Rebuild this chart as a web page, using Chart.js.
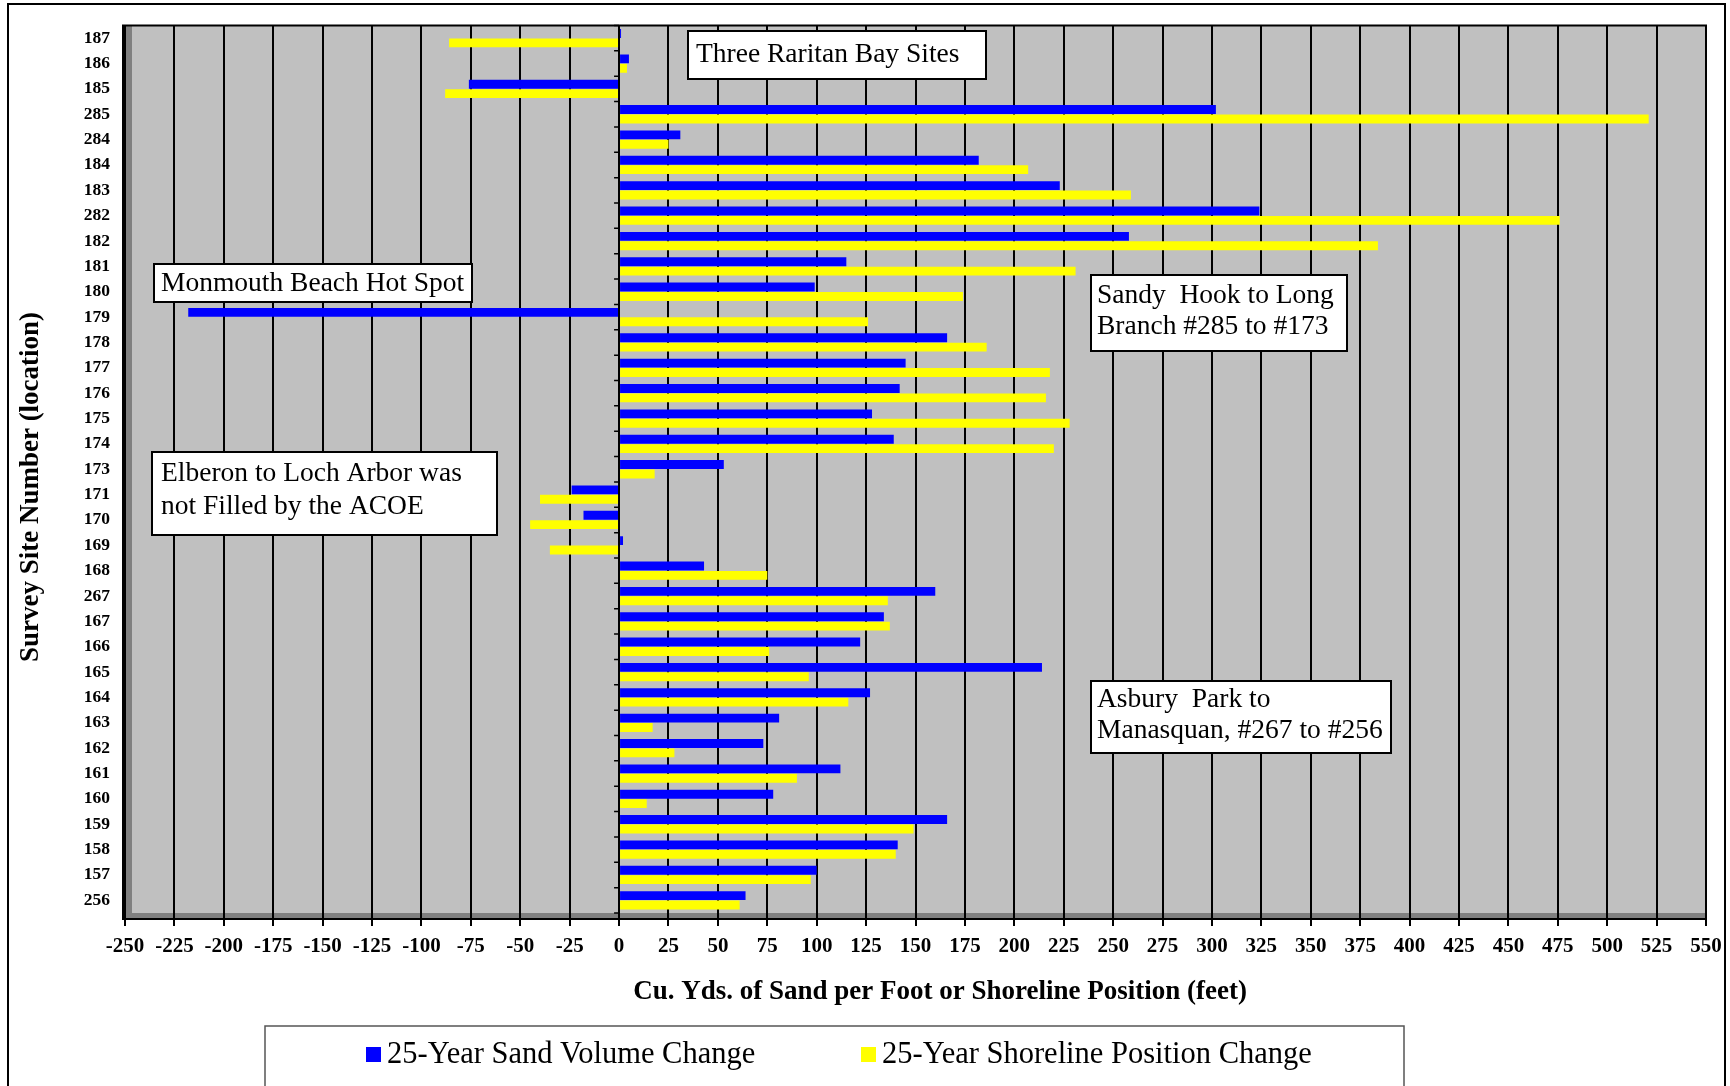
<!DOCTYPE html>
<html>
<head>
<meta charset="utf-8">
<script src="https://cdn.jsdelivr.net/npm/chart.js@4.4.1/dist/chart.umd.min.js"></script>
<style>
html,body{margin:0;padding:0;background:#fff;}
#wrap{width:1730px;height:1086px;position:relative;overflow:hidden;}
canvas{display:block;}
</style>
</head>
<body>
<div id="wrap"><canvas id="c" width="1730" height="1086"></canvas></div>
<script>
// ---- data ----
const sites = ['187','186','185','285','284','184','183','282','182','181','180','179','178','177','176','175','174','173','171','170','169','168','267','167','166','165','164','163','162','161','160','159','158','157','256'];
const sandVolumeChange = [1, 5, -76, 302, 31, 182, 223, 324, 258, 115, 99, -218, 166, 145, 142, 128, 139, 53, -24, -18, 2, 43, 160, 134, 122, 214, 127, 81, 73, 112, 78, 166, 141, 100, 64];
const shorelineChange = [-86, 4, -88, 521, 25, 207, 259, 476, 384, 231, 174, 126, 186, 218, 216, 228, 220, 18, -40, -45, -35, 75, 136, 137, 76, 96, 116, 17, 28, 90, 14, 149, 140, 97, 61];
const seriesNames = ['25-Year Sand Volume Change', '25-Year Shoreline Position Change'];
const xMin = -250, xMax = 550, xStep = 25;
const xTitle = 'Cu. Yds. of Sand per Foot or Shoreline Position (feet)';
const yTitle = 'Survey Site Number (location)';
const notes = [
  ['Three Raritan Bay Sites'],
  ['Monmouth Beach Hot Spot'],
  ['Elberon to Loch Arbor was', 'not Filled by the ACOE'],
  ['Sandy  Hook to Long', 'Branch #285 to #173'],
  ['Asbury  Park to', 'Manasquan, #267 to #256']
];

// ---- layout / style ----
const SERIF = "'Liberation Serif','Times New Roman',serif";
const noteBoxes = [
  {x:688, y:31, w:298, h:48, tx:696, ty:[55]},
  {x:154, y:264, w:318, h:38, tx:161, ty:[284]},
  {x:152, y:452, w:345, h:83, tx:161, ty:[474, 507]},
  {x:1091, y:275, w:256, h:76, tx:1097, ty:[296, 327]},
  {x:1091, y:681, w:300, h:72, tx:1097, ty:[700, 731]}
];

const decor = {
  id: 'decor',
  beforeDraw(chart) {
    const {ctx, chartArea: a} = chart;
    ctx.save();
    ctx.fillStyle = '#fff';
    ctx.fillRect(0, 0, chart.width, chart.height);
    ctx.fillStyle = '#C0C0C0';
    ctx.fillRect(a.left, a.top, a.right - a.left, a.bottom - a.top);
    ctx.fillStyle = '#808080';
    ctx.fillRect(a.left - 2, a.top, 9, a.bottom - a.top + 6);
    ctx.fillRect(a.left - 2, a.bottom, a.right - a.left + 2, 6);
    ctx.restore();
  },
  afterDraw(chart) {
    const {ctx, chartArea: a, scales} = chart;
    ctx.save();
    // plot frame
    ctx.strokeStyle = '#000';
    ctx.lineWidth = 2;
    ctx.beginPath();
    ctx.moveTo(a.left - 2, a.top);
    ctx.lineTo(a.right, a.top);
    ctx.lineTo(a.right, a.bottom + 6);
    ctx.lineTo(a.left - 2, a.bottom + 6);
    ctx.closePath();
    ctx.stroke();
    // category ticks on zero axis
    const x0 = scales.x.getPixelForValue(0);
    ctx.lineWidth = 1.5;
    ctx.beginPath();
    ctx.moveTo(x0, a.top); ctx.lineTo(x0, a.bottom);
    for (let i = 0; i <= sites.length; i++) {
      const y = scales.y.getPixelForValue(i - 0.5);
      ctx.moveTo(x0 - 5, y); ctx.lineTo(x0, y);
    }
    ctx.stroke();
    // annotation boxes
    ctx.font = '27.5px ' + SERIF;
    ctx.textBaseline = 'middle';
    ctx.textAlign = 'left';
    notes.forEach((lines, k) => {
      const b = noteBoxes[k];
      ctx.fillStyle = '#fff';
      ctx.fillRect(b.x, b.y, b.w, b.h);
      ctx.strokeStyle = '#000';
      ctx.lineWidth = 2;
      ctx.strokeRect(b.x, b.y, b.w, b.h);
      ctx.fillStyle = '#000';
      lines.forEach((t, j) => ctx.fillText(t, b.tx, b.ty[j]));
    });
    // axis titles
    ctx.fillStyle = '#000';
    ctx.textAlign = 'center';
    ctx.font = 'bold 27px ' + SERIF;
    ctx.fillText(xTitle, 940, 992);
    ctx.save();
    ctx.translate(31, 487);
    ctx.rotate(-Math.PI / 2);
    ctx.font = 'bold 27px ' + SERIF;
    ctx.fillText(yTitle, 0, 0);
    ctx.restore();
    // legend
    ctx.strokeStyle = '#555';
    ctx.lineWidth = 1.5;
    ctx.strokeRect(265, 1026, 1139, 80);
    ctx.font = '30.5px ' + SERIF;
    ctx.textAlign = 'left';
    const legendX = [366, 861];
    chart.data.datasets.forEach((ds, i) => {
      ctx.fillStyle = ds.backgroundColor;
      ctx.fillRect(legendX[i], 1047, 15, 15);
      ctx.fillStyle = '#000';
      ctx.fillText(ds.label, legendX[i] + 21, 1055);
    });
    // outer frame
    ctx.strokeStyle = '#000';
    ctx.lineWidth = 2;
    ctx.strokeRect(8, 4, 1717, 1200);
    ctx.restore();
  }
};

new Chart(document.getElementById('c'), {
  type: 'bar',
  data: {
    labels: sites,
    datasets: [
      {label: seriesNames[0], data: sandVolumeChange, backgroundColor: '#0000FF', borderWidth: 0},
      {label: seriesNames[1], data: shorelineChange, backgroundColor: '#FFFF00', borderWidth: 0}
    ]
  },
  options: {
    indexAxis: 'y',
    responsive: false,
    animation: false,
    devicePixelRatio: 1,
    layout: {padding: {left: 10, right: 24, top: 22, bottom: 0}},
    datasets: {bar: {categoryPercentage: 0.74, barPercentage: 0.95}},
    plugins: {legend: {display: false}, tooltip: {enabled: false}},
    scales: {
      x: {
        type: 'linear', min: xMin, max: xMax,
        ticks: {stepSize: xStep, autoSkip: false, maxRotation: 0, color: '#000', padding: 8,
                font: {family: SERIF, size: 21, weight: 'bold'}},
        grid: {color: '#000', lineWidth: 2, drawTicks: true, tickLength: 13, tickColor: '#000'},
        border: {display: false},
        afterFit: s => { s.height = 173; }
      },
      y: {
        ticks: {autoSkip: false, color: '#000', padding: 15,
                font: {family: SERIF, size: 17.5, weight: 'bold'}},
        grid: {display: false, drawTicks: false},
        border: {display: false},
        afterFit: s => { s.width = 115; }
      }
    }
  },
  plugins: [decor]
});
</script>
</body>
</html>
